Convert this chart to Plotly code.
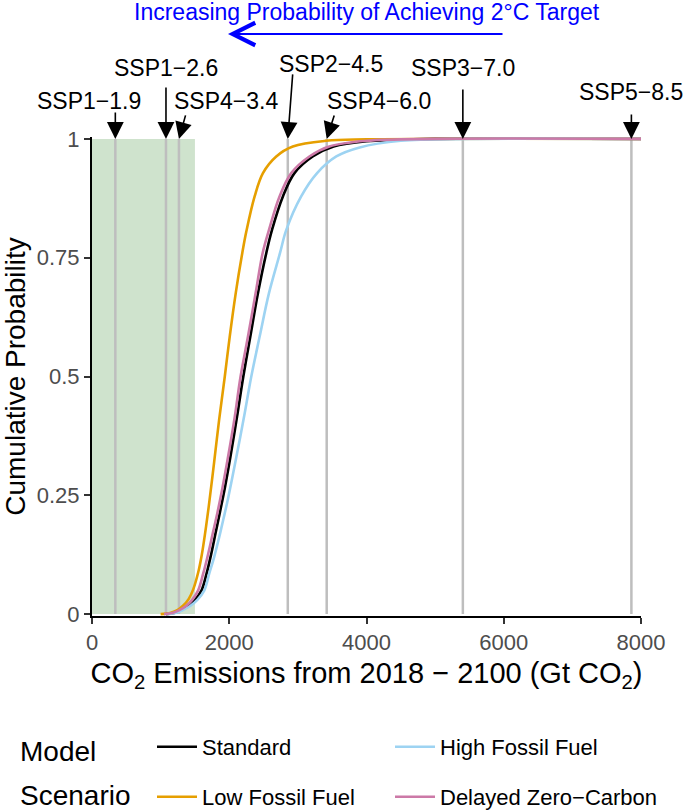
import plotly.graph_objects as go

# ---------------- data ----------------
standard_x = [1080, 1210, 1310, 1400, 1500, 1596, 1669, 1735, 1800, 1865, 1935, 2017, 2113, 2205, 2307, 2418, 2540, 2622, 2782, 2950, 3216, 3520, 4000, 5000, 8000]
standard_y = [0, 0.003, 0.009, 0.017, 0.03, 0.05, 0.085, 0.125, 0.17, 0.215, 0.265, 0.331, 0.415, 0.5, 0.584, 0.675, 0.76, 0.808, 0.879, 0.928, 0.963, 0.984, 0.995, 1, 1]

low_x = [1000, 1150, 1250, 1330, 1410, 1475, 1548, 1600, 1650, 1700, 1780, 1852, 1935, 2007, 2094, 2190, 2250, 2370, 2491, 2685, 2926, 3411, 4000, 8000]
low_y = [0, 0.003, 0.009, 0.018, 0.032, 0.052, 0.088, 0.125, 0.172, 0.225, 0.32, 0.408, 0.5, 0.584, 0.675, 0.76, 0.806, 0.879, 0.928, 0.963, 0.984, 0.996, 0.999, 1]

high_x = [1100, 1230, 1330, 1430, 1535, 1637, 1708, 1780, 1850, 1915, 1985, 2104, 2225, 2317, 2443, 2578, 2740, 2830, 3048, 3280, 3560, 3900, 4500, 5500, 8000]
high_y = [0, 0.003, 0.009, 0.017, 0.03, 0.05, 0.085, 0.12, 0.16, 0.2, 0.245, 0.331, 0.4225, 0.497, 0.584, 0.675, 0.76, 0.808, 0.879, 0.928, 0.963, 0.982, 0.996, 1, 1]

delayed_x = [1050, 1180, 1280, 1370, 1460, 1547, 1620, 1690, 1760, 1830, 1900, 1983, 2080, 2165, 2273, 2384, 2487, 2578, 2733, 2903, 3168, 3459, 4000, 5000, 8000]
delayed_y = [0, 0.003, 0.009, 0.017, 0.03, 0.05, 0.085, 0.125, 0.17, 0.215, 0.265, 0.331, 0.415, 0.5, 0.584, 0.675, 0.76, 0.808, 0.879, 0.928, 0.963, 0.984, 0.996, 1, 1]

ssp_names = ["SSP1−1.9", "SSP1−2.6", "SSP4−3.4", "SSP2−4.5", "SSP4−6.0", "SSP3−7.0", "SSP5−8.5"]
ssp_values = [340, 1078, 1267, 2853, 3420, 5404, 7860]

budget_lo, budget_hi = 0, 1500   # green 2°C budget region

x_ticks = [0, 2000, 4000, 6000, 8000]
y_ticks = [0, 0.25, 0.5, 0.75, 1]
y_tick_labels = ["0", "0.25", "0.5", "0.75", "1"]

# name, x, y, colour, legend id ; legend grid: Standard | High  /  Low | Delayed
series = [
    ("Standard", standard_x, standard_y, "#000000", "legend"),
    ("Low Fossil Fuel", low_x, low_y, "#E69F00", "legend2"),
    ("High Fossil Fuel", high_x, high_y, "#9DD3F2", "legend3"),
    ("Delayed Zero−Carbon", delayed_x, delayed_y, "#CC79A7", "legend4"),
]

# ---------------- layout constants ----------------
W, H = 685, 811
ML, MR, MT, MB = 92, 44, 137, 195
YPAD = 0.004
PH = H - MT - MB
FONT = "Liberation Sans, Arial, Helvetica, sans-serif"


def py2paper(py):
    """pixel row -> paper y"""
    return (H - MB - py) / PH


def px2paper(px):
    return (px - ML) / (W - ML - MR)


fig = go.Figure()

for name, xs, ys, col, lg in series:
    fig.add_trace(go.Scatter(
        x=xs, y=ys, mode="lines", name=name, legend=lg,
        line=dict(color=col, width=2.6, shape="spline", smoothing=1.0),
        hoverinfo="skip",
    ))

shapes = [dict(type="rect", xref="x", yref="y", x0=budget_lo, x1=budget_hi, y0=0, y1=1,
               fillcolor="rgb(207,227,205)", line=dict(width=0), layer="below")]
for v in ssp_values:
    shapes.append(dict(type="line", xref="x", yref="y", x0=v, x1=v, y0=0, y1=1,
                       line=dict(color="#BEBEBE", width=2.5), layer="below"))

# label placement (pixel offsets): text dx, text y row, arrow tail dx, arrow tail y row
label_dx = [-26, 0, 47, 43, 52, 0, 0]
label_y = [101, 68, 101, 64, 101, 68, 92]
tail_dx = [0, 0, 7, 5, 8, 0, 0]
tail_y = [111, 86, 114, 73, 114, 88, 113]
tip_y = 139

annotations = []
for name, v, dx, ly, tdx, ty in zip(ssp_names, ssp_values, label_dx, label_y, tail_dx, tail_y):
    annotations.append(dict(x=v, y=py2paper(ly), xref="x", yref="paper", text=name,
                            showarrow=False, xshift=dx, xanchor="center", yanchor="middle",
                            font=dict(size=23, color="black", family=FONT)))
    annotations.append(dict(x=v, y=1, xref="x", yref="y", text="", showarrow=True,
                            ax=tdx, ay=ty - tip_y, axref="pixel", ayref="pixel",
                            arrowhead=2, arrowsize=2.1, arrowwidth=1.6, arrowcolor="black",
                            standoff=0, startstandoff=0))

# top blue arrow and message
annotations.append(dict(x=px2paper(228), y=py2paper(34), xref="paper", yref="paper", text="",
                        showarrow=True, ax=276, ay=0, arrowhead=5, arrowsize=2.2, arrowwidth=2,
                        arrowcolor="#0000FF", standoff=0, startstandoff=0))
annotations.append(dict(x=px2paper(367), y=py2paper(12), xref="paper", yref="paper",
                        text="Increasing Probability of Achieving 2°C Target", showarrow=False,
                        xanchor="center", yanchor="middle",
                        font=dict(size=23, color="#0000FF", family=FONT)))

# legend title
annotations.append(dict(x=px2paper(18), y=py2paper(751), xref="paper", yref="paper", text="Model",
                        showarrow=False, xanchor="left", yanchor="middle",
                        font=dict(size=28, color="black", family=FONT)))
annotations.append(dict(x=px2paper(18), y=py2paper(795), xref="paper", yref="paper", text="Scenario",
                        showarrow=False, xanchor="left", yanchor="middle",
                        font=dict(size=28, color="black", family=FONT)))

legend_common = dict(orientation="h", xanchor="left", yanchor="middle",
                     font=dict(size=22, color="black", family=FONT), itemwidth=40,
                     bgcolor="rgba(0,0,0,0)", borderwidth=0, itemclick=False,
                     itemdoubleclick=False)

col_x = [152, 390]
row_y = [747, 797]

fig.update_layout(
    width=W, height=H,
    margin=dict(l=ML, r=MR, t=MT, b=MB, autoexpand=False),
    paper_bgcolor="white", plot_bgcolor="white",
    font=dict(family=FONT, color="black"),
    shapes=shapes, annotations=annotations,
    showlegend=True,
    legend=dict(x=px2paper(col_x[0]), y=py2paper(row_y[0]), **legend_common),
    legend2=dict(x=px2paper(col_x[0]), y=py2paper(row_y[1]), **legend_common),
    legend3=dict(x=px2paper(col_x[1]), y=py2paper(row_y[0]), **legend_common),
    legend4=dict(x=px2paper(col_x[1]), y=py2paper(row_y[1]), **legend_common),
    xaxis=dict(range=[0, 8000], tickvals=x_ticks, ticktext=[str(t) for t in x_ticks],
               showgrid=False, zeroline=False, showline=True, linecolor="black", linewidth=2,
               ticks="outside", ticklen=6, tickwidth=2, tickcolor="#333333",
               tickfont=dict(size=22, color="#4D4D4D", family=FONT),
               title=dict(text="CO<sub>2</sub> Emissions from 2018 − 2100 (Gt CO<sub>2</sub>)",
                          font=dict(size=29, color="black", family=FONT), standoff=8),
               automargin=False),
    yaxis=dict(range=[-YPAD, 1 + YPAD], tickvals=y_ticks, ticktext=y_tick_labels,
               showgrid=False, zeroline=False, showline=True, linecolor="black", linewidth=2,
               ticks="outside", ticklen=6, tickwidth=2, tickcolor="#333333",
               tickfont=dict(size=22, color="#4D4D4D", family=FONT),
               title=dict(text="Cumulative Probability",
                          font=dict(size=28, color="black", family=FONT), standoff=4),
               automargin=False),
)

fig.write_html("out.html", config={"displayModeBar": False},
               post_script="document.body.style.margin='0px';")
